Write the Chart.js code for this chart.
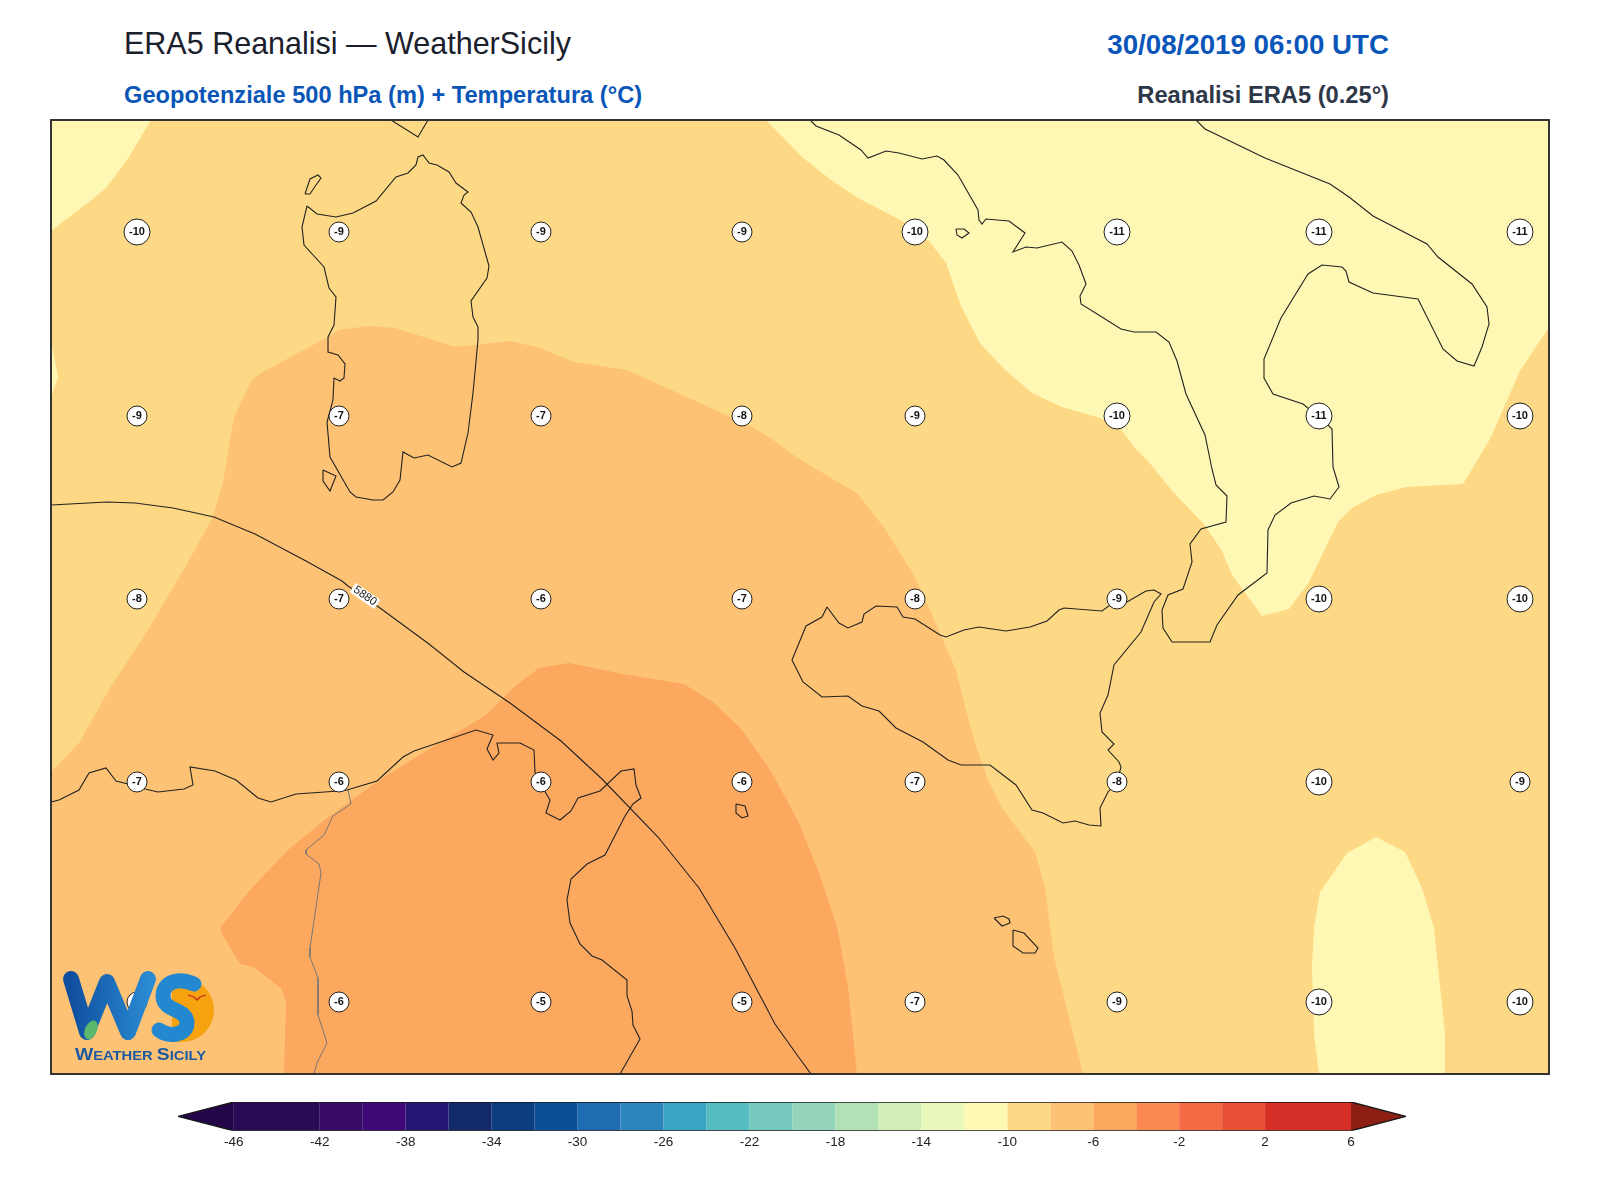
<!DOCTYPE html>
<html lang="it">
<head>
<meta charset="utf-8">
<title>ERA5 Reanalisi — WeatherSicily</title>
<script src="https://cdn.jsdelivr.net/npm/chart.js@4"></script>
<style>
  html, body { margin: 0; background: #fff; }
  body { position: relative; width: 1600px; height: 1200px; overflow: hidden; font-family: "Liberation Sans", Arial, sans-serif; }
  .txt { position: absolute; white-space: nowrap; line-height: 1; }
  #title { left: 124px; top: 28px; font-size: 30.5px; color: #1a202c; }
  #subtitle { left: 124px; top: 84px; font-size: 23.65px; font-weight: bold; color: #0a56b8; }
  #date { right: 211px; top: 31px; font-size: 27.7px; font-weight: bold; color: #0a56b8; }
  #source { right: 211px; top: 84px; font-size: 23.7px; font-weight: bold; color: #2d3748; }
  #map-box { position: absolute; left: 51px; top: 120px; width: 1498px; height: 954px; outline: 2px solid #333; outline-offset: -1px; }
  #cbar-box { position: absolute; left: 178px; top: 1102px; width: 1228px; height: 51px; }
  #logo { position: absolute; left: 60px; top: 968px; width: 160px; height: 96px; }
</style>
</head>
<body>
<div class="txt" id="title">ERA5 Reanalisi — WeatherSicily</div>
<div class="txt" id="subtitle">Geopotenziale 500 hPa (m) + Temperatura (°C)</div>
<div class="txt" id="date">30/08/2019 06:00 UTC</div>
<div class="txt" id="source">Reanalisi ERA5 (0.25°)</div>
<div id="map-box"><canvas id="map"></canvas></div>
<div id="cbar-box"><canvas id="cbar"></canvas></div>
<svg id="logo" viewBox="0 0 160 96">
  <defs>
    <linearGradient id="wGrad" x1="0" x2="1" y1="0" y2="0">
      <stop offset="0" stop-color="#0f4f9e"/><stop offset="1" stop-color="#2a8ad2"/>
    </linearGradient>
    <clipPath id="sunClip"><rect x="112" y="0" width="48" height="96"/></clipPath>
  </defs>
  <circle cx="122" cy="42" r="32" fill="#f7a20f" clip-path="url(#sunClip)"/>
  <path d="M11 11 L27 64 L47 14 L68 64 L88 11" fill="none" stroke="url(#wGrad)" stroke-width="16" stroke-linejoin="round" stroke-linecap="round"/>
  <path d="M134 16 C118 9 103 14 103 28 C103 44 127 40 127 55 C127 68 108 69 99 62" fill="none" stroke="#2388d0" stroke-width="15" stroke-linecap="round"/>
  <ellipse cx="31" cy="62" rx="6" ry="10" fill="#5cb86c" transform="rotate(25 31 62)"/>
  <path d="M128 27 l6 2 l3 3 l3 -3 l6 -2" fill="none" stroke="#c8281e" stroke-width="1.3"/>
  <text x="15" y="92" font-family="Liberation Sans" font-weight="bold" fill="#1a5aa5" textLength="131" lengthAdjust="spacingAndGlyphs"><tspan font-size="17">W</tspan><tspan font-size="13">EATHER </tspan><tspan font-size="17">S</tspan><tspan font-size="13">ICILY</tspan></text>
</svg>

<script>
"use strict";

/* ERA5 500 hPa map. All map arrays are in map units: x east from the left edge,
 * y south from the top edge of the plotted area. */

const MAP_W = 1498;
const MAP_H = 954;

const COLOR_M12 = "#fff8b5";
const COLOR_M10 = "#fed985";
const COLOR_M8 = "#fec274";
const COLOR_M6 = "#fda85f";

// filled temperature bands
const bandFull = [[0,0],[1498,0],[1498,954],[0,954]];
const bandYellowNW = [[0,0],[100,0],[78,37],[56,67],[38,82],[0,111]];
const bandYellowW = [[0,222],[7,257],[0,278]];
const bandYellowItaly = [[715,0],[751,37],[780,60],[807,78],[853,102],[878,121],[895,143],[910,186],[929,223],[951,247],[981,273],[1011,287],[1046,297],[1068,307],[1084,328],[1097,341],[1122,372],[1153,404],[1171,431],[1181,455],[1211,496],[1238,489],[1257,464],[1271,435],[1287,402],[1301,388],[1325,375],[1355,367],[1412,364],[1439,319],[1469,251],[1498,207],[1498,0]];
const bandYellowSE = [[1325,717],[1354,732],[1371,768],[1383,808],[1387,847],[1394,913],[1394,954],[1268,954],[1263,913],[1261,847],[1263,807],[1269,772],[1296,733]];
const bandM8 = [[0,652],[28,623],[59,568],[97,510],[133,449],[161,399],[172,363],[183,297],[201,260],[210,253],[277,217],[288,210],[317,206],[344,208],[404,227],[460,221],[489,228],[523,242],[576,250],[649,283],[699,306],[721,319],[745,337],[807,374],[834,409],[864,457],[889,513],[905,550],[913,583],[924,623],[937,660],[951,688],[984,732],[994,767],[1003,837],[1032,954],[0,954]];
const bandM6 = [[233,954],[235,881],[230,868],[202,847],[189,844],[170,812],[170,807],[199,770],[237,730],[276,698],[327,661],[388,623],[434,596],[462,568],[488,548],[518,543],[577,555],[633,564],[663,583],[691,610],[721,653],[748,703],[767,750],[786,807],[797,867],[806,954]];

// coastlines
const coastSardinia = [[256,86],[266,94],[285,97],[302,93],[325,81],[345,57],[357,53],[365,45],[367,37],[372,35],[378,43],[386,45],[398,52],[405,63],[417,72],[413,75],[410,83],[420,92],[427,107],[438,146],[436,158],[420,181],[422,197],[427,207],[427,220],[422,273],[417,313],[410,343],[401,347],[377,335],[363,338],[352,332],[349,360],[342,372],[332,380],[322,380],[305,377],[299,372],[279,337],[276,302],[282,280],[283,258],[289,261],[293,258],[294,244],[287,235],[277,232],[277,217],[283,205],[285,177],[278,168],[273,147],[253,125],[251,107],[256,86]];
const coastAsinara = [[254,74],[259,74],[265,65],[270,58],[267,55],[259,59],[254,74]];
const coastAntioco = [[272,350],[285,356],[279,371],[272,361],[272,350]];
const coastCorsica = [[340,0],[367,17],[377,0]];
const coastItaly = [[760,1],[765,6],[788,15],[810,30],[817,38],[835,31],[848,33],[871,39],[886,36],[893,40],[907,55],[927,90],[928,100],[931,104],[935,99],[958,101],[974,113],[962,132],[975,127],[986,128],[1011,122],[1021,131],[1028,145],[1035,164],[1029,176],[1030,184],[1070,209],[1083,212],[1105,212],[1118,222],[1126,241],[1135,274],[1154,315],[1161,349],[1165,365],[1176,376],[1175,402],[1150,409],[1139,424],[1141,442],[1132,469],[1117,475],[1111,490],[1112,508],[1121,522],[1159,522],[1166,505],[1187,475],[1216,453],[1217,410],[1224,395],[1240,383],[1263,376],[1279,379],[1288,367],[1282,347],[1281,309],[1274,302],[1252,284],[1222,274],[1213,258],[1213,239],[1230,198],[1257,154],[1271,145],[1291,147],[1295,151],[1298,162],[1322,173],[1367,179],[1392,229],[1406,241],[1423,246],[1431,227],[1438,204],[1436,187],[1421,164],[1387,137],[1376,124],[1322,96],[1298,77],[1279,64],[1214,38],[1154,9],[1145,0]];
const coastIschia = [[905,109],[913,109],[918,113],[911,118],[906,115],[905,109]];
const coastSicily = [[776,487],[771,497],[755,506],[741,540],[752,562],[771,577],[797,576],[811,586],[828,591],[845,608],[872,622],[897,640],[910,645],[939,645],[965,665],[981,690],[992,693],[1012,703],[1024,701],[1038,705],[1050,706],[1049,688],[1057,672],[1066,662],[1070,647],[1068,642],[1057,630],[1063,624],[1051,612],[1049,593],[1057,575],[1063,545],[1090,512],[1103,482],[1110,474],[1103,470],[1095,471],[1076,482],[1066,480],[1051,491],[1013,488],[1008,490],[996,501],[979,507],[955,511],[928,507],[913,510],[895,517],[889,515],[864,499],[852,497],[846,487],[825,486],[813,494],[811,502],[797,508],[788,503],[776,487]];
const coastGozo = [[943,798],[952,796],[958,799],[959,803],[951,806],[943,798]];
const coastMalta = [[962,810],[973,813],[987,828],[984,833],[972,833],[962,826],[962,810]];
const coastPantelleria = [[685,684],[694,686],[697,696],[691,698],[685,693],[685,684]];
const coastAfrica = [[0,682],[8,680],[28,670],[38,653],[55,648],[65,661],[77,664],[94,669],[107,672],[133,669],[142,665],[139,647],[164,651],[185,660],[207,678],[220,682],[245,674],[288,671],[296,670],[326,661],[352,637],[363,631],[425,610],[442,615],[436,629],[442,640],[448,633],[446,623],[469,623],[483,630],[484,652],[490,665],[499,680],[495,693],[509,700],[520,691],[527,678],[549,671],[570,651],[583,649],[585,665],[590,678],[582,684],[574,696],[554,735],[536,744],[520,759],[516,780],[519,803],[529,824],[541,836],[551,840],[576,860],[576,876],[581,891],[582,905],[589,919],[569,954]];
const borderTunisia = [[297,670],[300,684],[282,696],[273,715],[255,730],[255,734],[268,744],[270,753],[259,828],[259,837],[267,858],[267,895],[276,923],[266,943],[263,954]];

// 500 hPa geopotential isoline
const isoline5880 = [[0,385],[56,382],[84,383],[122,388],[163,397],[204,414],[255,441],[291,461],[297,466],[329,488],[378,524],[413,552],[459,583],[510,621],[551,659],[607,717],[648,768],[684,828],[724,904],[749,939],[760,954]];
const isoLabel = "5880";
const isoLabelAt = [314, 476];
const isoLabelAngle = 35;

// temperature stations
const stationCols = [86, 288, 490, 691, 864, 1066, 1268, 1469];
const stationRows = [112, 296, 479, 662, 882];
const stationTemps = [
  [-10, -9, -9, -9, -10, -11, -11, -11],
  [-9, -7, -7, -8, -9, -10, -11, -10],
  [-8, -7, -6, -7, -8, -9, -10, -10],
  [-7, -6, -6, -6, -7, -8, -10, -9],
  [-6, -6, -5, -5, -7, -9, -10, -10],
];

// colour bar
const cbarEdges = [-46, -42, -40, -38, -36, -34, -32, -30, -28, -26, -24, -22, -20, -18, -16, -14, -12, -10, -8, -6, -4, -2, 0, 2, 6];
const cbarColors = ["#2a0a54", "#360a66", "#3f0877", "#231673", "#122a6b", "#0c3d7f", "#0a4e96", "#1e6db2", "#2d86bb", "#3aa6c4", "#55bcc2", "#74c9bc", "#94d4ba", "#b3e1b6", "#d2eeb8", "#e9f8bb", COLOR_M12, COLOR_M10, COLOR_M8, COLOR_M6, "#fb8a50", "#f46a45", "#e84f35", "#d62f27"];
const cbarTicks = [-46, -42, -38, -34, -30, -26, -22, -18, -14, -10, -6, -2, 2, 6];
const cbarUnderTip = -48.6;
const cbarOverTip = 8.56;
const cbarUnderColor = "#24054a";
const cbarOverColor = "#8d1e14";

Chart.defaults.font.family = '"Liberation Sans", Arial, sans-serif';
Chart.defaults.animation = false;
Chart.defaults.responsive = true;
Chart.defaults.maintainAspectRatio = false;
Chart.defaults.events = [];
Chart.defaults.plugins.legend.display = false;
Chart.defaults.plugins.tooltip.enabled = false;

const toPoints = (pairs) => pairs.map(([x, y]) => ({ x, y }));

function band(pairs, color, order) {
  return {
    data: toPoints(pairs.concat([pairs[0]])),
    showLine: true, fill: "shape", backgroundColor: color,
    borderWidth: 0, pointRadius: 0, order,
  };
}

function line(pairs, color, width) {
  return {
    data: toPoints(pairs),
    showLine: true, fill: false, borderColor: color, borderWidth: width,
    pointRadius: 0, order: 1,
  };
}

function stationDataset() {
  const points = [];
  stationRows.forEach((y, r) => stationCols.forEach((x, c) => {
    points.push({ x, y, temp: stationTemps[r][c] });
  }));
  return {
    data: points,
    pointRadius: points.map((p) => (String(p.temp).length > 2 ? 13 : 10)),
    pointBackgroundColor: "#fff",
    pointBorderColor: "#222",
    pointBorderWidth: 1,
    order: 0,
  };
}

/* Draws the station values and the rotated isoline label on top of the map. */
const mapLabels = {
  id: "mapLabels",
  afterDatasetsDraw(chart) {
    const { ctx, scales } = chart;
    ctx.save();
    ctx.textAlign = "center";
    ctx.textBaseline = "middle";

    const lx = scales.x.getPixelForValue(isoLabelAt[0]);
    const ly = scales.y.getPixelForValue(isoLabelAt[1]);
    ctx.save();
    ctx.translate(lx, ly);
    ctx.rotate((isoLabelAngle * Math.PI) / 180);
    ctx.fillStyle = "#fff";
    ctx.fillRect(-15, -5.5, 30, 11);
    ctx.fillStyle = "#222";
    ctx.font = "11.5px " + Chart.defaults.font.family;
    ctx.fillText(isoLabel, 0, 0);
    ctx.restore();

    ctx.fillStyle = "#111";
    ctx.font = "bold 11px " + Chart.defaults.font.family;
    const meta = chart.getDatasetMeta(0);
    chart.data.datasets[0].data.forEach((p, i) => {
      ctx.fillText(String(p.temp), meta.data[i].x, meta.data[i].y);
    });
    ctx.restore();
  },
};

function renderMap() {
  const datasets = [
    stationDataset(),
    line(isoline5880, "#222", 1.1),
    line(coastSardinia, "#222", 1.1),
    line(coastAsinara, "#222", 1.1),
    line(coastAntioco, "#222", 1.1),
    line(coastCorsica, "#222", 1.1),
    line(coastItaly, "#222", 1.1),
    line(coastIschia, "#222", 1.1),
    line(coastSicily, "#222", 1.1),
    line(coastGozo, "#222", 1.1),
    line(coastMalta, "#222", 1.1),
    line(coastPantelleria, "#222", 1.1),
    line(coastAfrica, "#222", 1.1),
    line(borderTunisia, "#777", 1),
    band(bandM6, COLOR_M6, 2),
    band(bandYellowNW, COLOR_M12, 2),
    band(bandYellowW, COLOR_M12, 2),
    band(bandYellowItaly, COLOR_M12, 2),
    band(bandYellowSE, COLOR_M12, 2),
    band(bandM8, COLOR_M8, 3),
    band(bandFull, COLOR_M10, 4),
  ];
  new Chart(document.getElementById("map"), {
    type: "scatter",
    data: { datasets },
    options: {
      layout: { padding: 0, autoPadding: false },
      scales: {
        x: { type: "linear", display: false, min: 0, max: MAP_W },
        y: { type: "linear", display: false, min: 0, max: MAP_H, reverse: true },
      },
    },
    plugins: [mapLabels],
  });
}

function renderColorbar() {
  const lo = cbarEdges[0];
  const hi = cbarEdges[cbarEdges.length - 1];
  const outline = [[cbarUnderTip, 0.5], [lo, 0], [hi, 0], [cbarOverTip, 0.5], [hi, 1], [lo, 1], [cbarUnderTip, 0.5]];
  const datasets = [line(outline, "#1a1a1a", 1.4)];
  datasets[0].order = 0;
  cbarColors.forEach((color, i) => {
    const a = cbarEdges[i];
    const b = cbarEdges[i + 1];
    datasets.push(band([[a, 0], [b, 0], [b, 1], [a, 1]], color, 2));
  });
  datasets.push(band([[cbarUnderTip, 0.5], [lo, 0], [lo, 1]], cbarUnderColor, 2));
  datasets.push(band([[hi, 0], [cbarOverTip, 0.5], [hi, 1]], cbarOverColor, 2));

  new Chart(document.getElementById("cbar"), {
    type: "scatter",
    data: { datasets },
    options: {
      layout: { padding: 0, autoPadding: false },
      scales: {
        x: {
          type: "linear", min: cbarUnderTip, max: cbarOverTip,
          grid: { display: false, drawTicks: false },
          border: { display: false },
          afterBuildTicks: (axis) => { axis.ticks = cbarTicks.map((value) => ({ value })); },
          ticks: { autoSkip: false, maxRotation: 0, padding: 3, color: "#222", font: { size: 13.5 }, callback: (v) => String(v) },
        },
        y: { type: "linear", display: false, min: 0, max: 1, reverse: true },
      },
    },
  });
}

renderMap();
renderColorbar();
</script>
</body>
</html>
